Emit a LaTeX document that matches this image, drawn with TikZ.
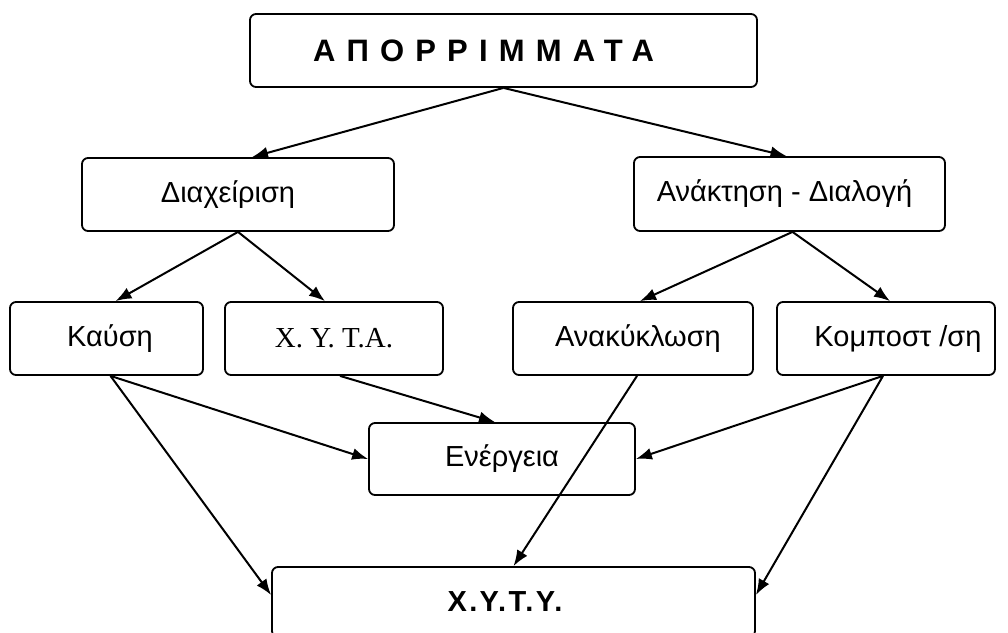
\documentclass[tikz,border=0pt]{standalone}
\usepackage{fontspec}
\setmainfont{Liberation Sans}
\newfontfamily\serifgr{Liberation Serif}
\usetikzlibrary{arrows.meta,calc}
\newcommand{\shiftL}[2]{#2\hspace*{#1}}
\newcommand{\shiftR}[2]{\hspace*{#1}#2}
\begin{document}
\begin{tikzpicture}[x=1pt,y=-1pt,
  box/.style={draw, line width=1.8pt, rounded corners=6pt, inner sep=0pt,
    font=\fontsize{29}{32}\selectfont},
  conn/.style={line width=2pt, -{Latex[length=16pt,width=12pt]}}]
\useasboundingbox (0,0) rectangle (1008,632);
\clip (0,0) rectangle (1008,632);
\node[box, minimum width=507pt, minimum height=73pt,
  font=\fontsize{31}{34}\selectfont\bfseries\addfontfeature{LetterSpace=36}] (top) at (503.5,50.5) {\shiftL{40pt}{ΑΠΟΡΡΙΜΜΑΤΑ}};
\node[box, minimum width=312pt, minimum height=73pt] (dia) at (238,194.5) {\shiftL{20pt}{Διαχείριση}};
\node[box, minimum width=311pt, minimum height=74pt] (ana) at (789.5,194) {\shiftL{10pt}{Ανάκτηση - Διαλογή}};
\node[box, minimum width=193pt, minimum height=73pt] (kau) at (106.5,338.5) {\shiftR{7pt}{Καύση}};
\node[box, minimum width=218pt, minimum height=73pt, font=\fontsize{29}{32}\selectfont\serifgr] (xyta) at (334,338.5) {Χ. Υ. Τ.Α.};
\node[box, minimum width=240pt, minimum height=73pt] (anak) at (633,338.5) {\shiftR{10pt}{Ανακύκλωση}};
\node[box, minimum width=218pt, minimum height=73pt] (komp) at (886,338.5) {\shiftR{24pt}{Κομποστ /ση}};
\node[box, minimum width=266pt, minimum height=72pt] (ener) at (502,459) {Ενέργεια};
\node[box, minimum width=483pt, minimum height=70pt,
  font=\fontsize{29}{32}\selectfont\bfseries\addfontfeature{LetterSpace=8}] (xyty) at (513.5,602) {\shiftL{17pt}{Χ.Υ.Τ.Υ.}};
\draw[conn] (top.south) -- ([xshift=14pt]dia.north);
\draw[conn] (top.south) -- ([xshift=-3pt]ana.north);
\draw[conn] (dia.south) -- ([xshift=9pt]kau.north);
\draw[conn] (dia.south) -- ([xshift=-9pt]xyta.north);
\draw[conn] ([xshift=3pt]ana.south) -- ([xshift=7pt]anak.north);
\draw[conn] ([xshift=3pt]ana.south) -- ([xshift=4pt]komp.north);
\draw[conn] ([xshift=4pt]kau.south) -- (ener.west);
\draw[conn] ([xshift=4pt]kau.south) -- ([yshift=7pt]xyty.west);
\draw[conn] ([xshift=6pt]xyta.south) -- ([xshift=-7pt]ener.north);
\draw[conn] ([xshift=-3pt]komp.south) -- (ener.east);
\draw[conn] ([xshift=-3pt]komp.south) -- ([yshift=7pt]xyty.east);
\draw[conn] ([xshift=4pt]anak.south) -- (xyty.north);
\end{tikzpicture}
\end{document}
